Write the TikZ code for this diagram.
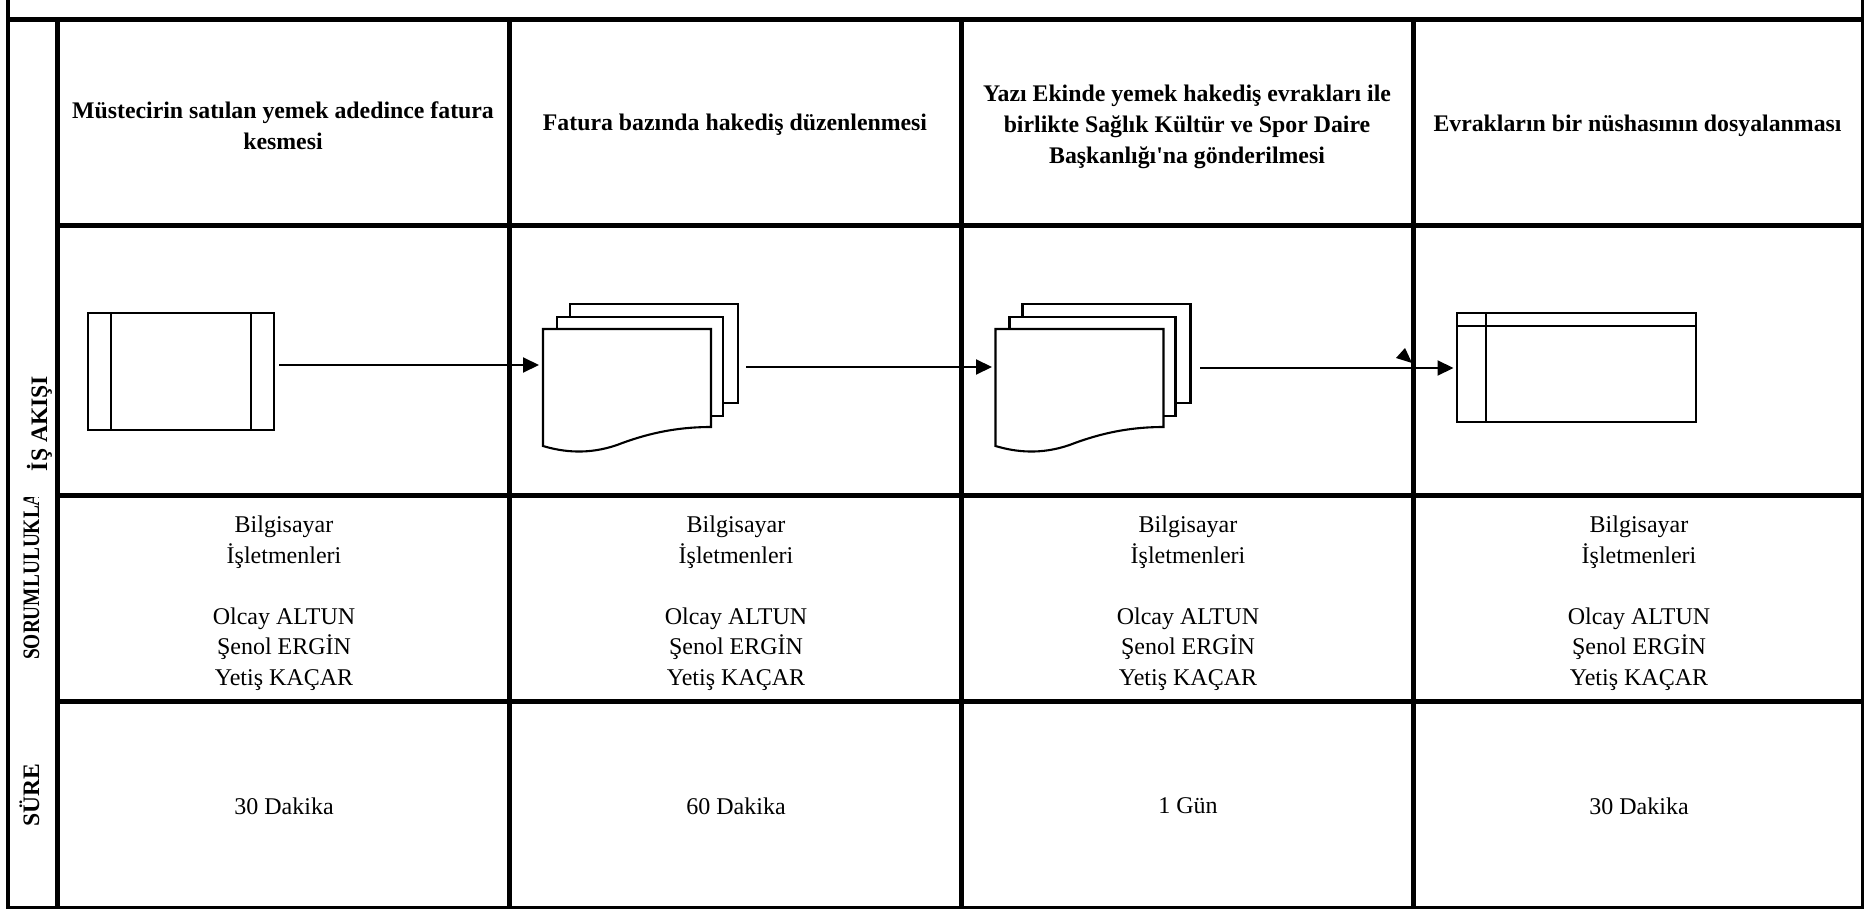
\documentclass[tikz,border=0pt]{standalone}
\usepackage{fontspec}
\setmainfont{Liberation Serif}
\usetikzlibrary{arrows.meta,calc}
\begin{document}
\begin{tikzpicture}[x=1pt,y=-1pt,
  gridline/.style={line width=5pt},
  shp/.style={draw, line width=2.1pt, fill=white},
  arr/.style={line width=2pt, -{Triangle[length=16pt,width=15pt]}},
  hdr/.style={font=\fontsize{23.8}{31}\selectfont\bfseries, align=center, inner sep=0pt},
  body/.style={font=\fontsize{24}{30.5}\selectfont, align=center, inner sep=0pt},
  lbl/.style={font=\fontsize{23.6}{29}\selectfont\bfseries, rotate=90, inner sep=0pt},
]
\useasboundingbox (0,0) rectangle (1865,909);
\fill[white] (0,0) rectangle (1865,909);

% ---------- shapes ----------
% predefined process
\node[shp, anchor=north west, minimum width=186pt, minimum height=117pt, inner sep=0pt] (p1) at (87,312) {};
\draw[line width=2.1pt] ([xshift=24pt]p1.north west) -- ([xshift=24pt]p1.south west);
\draw[line width=2.1pt] ([xshift=-24pt]p1.north east) -- ([xshift=-24pt]p1.south east);
\coordinate (p1out) at (279,365);

% multi-document col 2
\begin{scope}[shift={(543,329)}]
  \draw[shp] (27,-25) rectangle (195,74);
  \draw[shp] (14,-12) rectangle (180,87);
  \draw[shp] (0,0) -- (168,0) -- (168,98) .. controls (130,98) and (100,106) .. (74,116) .. controls (45,126) and (20,123) .. (0,117) -- cycle;
  \coordinate (d2in) at (-4,36);
  \coordinate (d2out) at (203,38);
\end{scope}

% multi-document col 3
\begin{scope}[shift={(995.5,329)}]
  \draw[shp] (27,-25) rectangle (195,74);
  \draw[shp] (14,-12) rectangle (180,87);
  \draw[shp] (0,0) -- (168,0) -- (168,98) .. controls (130,98) and (100,106) .. (74,116) .. controls (45,126) and (20,123) .. (0,117) -- cycle;
  \coordinate (d3in) at (-3.5,38);
  \coordinate (d3out) at (204.5,39);
\end{scope}

% internal storage col 4
\node[shp, anchor=north west, minimum width=239pt, minimum height=109pt, inner sep=0pt] (s4) at (1456,312) {};
\draw[line width=2.1pt] ([yshift=-13.7pt]s4.north west) -- ([yshift=-13.7pt]s4.north east);
\draw[line width=2.1pt] ([xshift=30pt]s4.north west) -- ([xshift=30pt]s4.south west);
\coordinate (s4in) at (1453.5,368);

% connectors
\draw[arr] (p1out) -- (d2in);
\draw[arr] (d2out) -- (d3in);
\draw[arr] (d3out) -- (s4in);
% stray arrowhead
\fill (1396,358) -- (1405,348) -- (1412,363) -- cycle;

% ---------- grid ----------
\draw[line width=4.5pt] (8,0) -- (8,909);
\draw[line width=2.6pt] (1862.5,0) -- (1862.5,909);
\draw[line width=3pt] (8,907.5) -- (1864,907.5);
\draw[gridline] (8,19.5) -- (1862.5,19.5);
\draw[gridline] (57,19.5) -- (57,907);
\draw[gridline] (509,19.5) -- (509,907);
\draw[gridline] (961.5,19.5) -- (961.5,907);
\draw[gridline] (1413.5,19.5) -- (1413.5,907);
\draw[gridline] (57,226) -- (1862.5,226);
\draw[gridline] (57,495.5) -- (1862.5,495.5);
\draw[gridline] (57,701.5) -- (1862.5,701.5);

% ---------- row labels ----------
\node[lbl, anchor=base] (l1) at (47,423.5) {İŞ AKIŞI};
\begin{scope}
  \clip (10,497) rectangle (55,702);
  \node[lbl, anchor=base west] (l2) at (39,660) {\scalebox{0.82}[1]{SORUMLULUKLAR}};
\end{scope}
\node[lbl, anchor=base] (l3) at (39,795) {SÜRE};

% ---------- headers ----------
\node[hdr] (h1) at (283,125.5) {Müstecirin satılan yemek adedince fatura\\kesmesi};
\node[hdr] (h2) at (735,125) {Fatura bazında hakediş düzenlenmesi};
\node[hdr] (h3) at (1187,127) {Yazı Ekinde yemek hakediş evrakları ile\\birlikte Sağlık Kültür ve Spor Daire\\Başkanlığı\textquotesingle na gönderilmesi};
\node[hdr] (h4) at (1637.5,126) {Evrakların bir nüshasının dosyalanması};

% ---------- responsibles ----------
\node[body] (r1) at (284,603) {Bilgisayar\\İşletmenleri\\[30.5pt]Olcay ALTUN\\Şenol ERGİN\\Yetiş KAÇAR};
\node[body] (r2) at (736,603) {Bilgisayar\\İşletmenleri\\[30.5pt]Olcay ALTUN\\Şenol ERGİN\\Yetiş KAÇAR};
\node[body] (r3) at (1188,603) {Bilgisayar\\İşletmenleri\\[30.5pt]Olcay ALTUN\\Şenol ERGİN\\Yetiş KAÇAR};
\node[body] (r4) at (1639,603) {Bilgisayar\\İşletmenleri\\[30.5pt]Olcay ALTUN\\Şenol ERGİN\\Yetiş KAÇAR};

% ---------- durations ----------
\node[body] (t1) at (284,806) {30 Dakika};
\node[body] (t2) at (736,806) {60 Dakika};
\node[body] (t3) at (1188,806) {1 Gün};
\node[body] (t4) at (1639,806) {30 Dakika};
\end{tikzpicture}
\end{document}
